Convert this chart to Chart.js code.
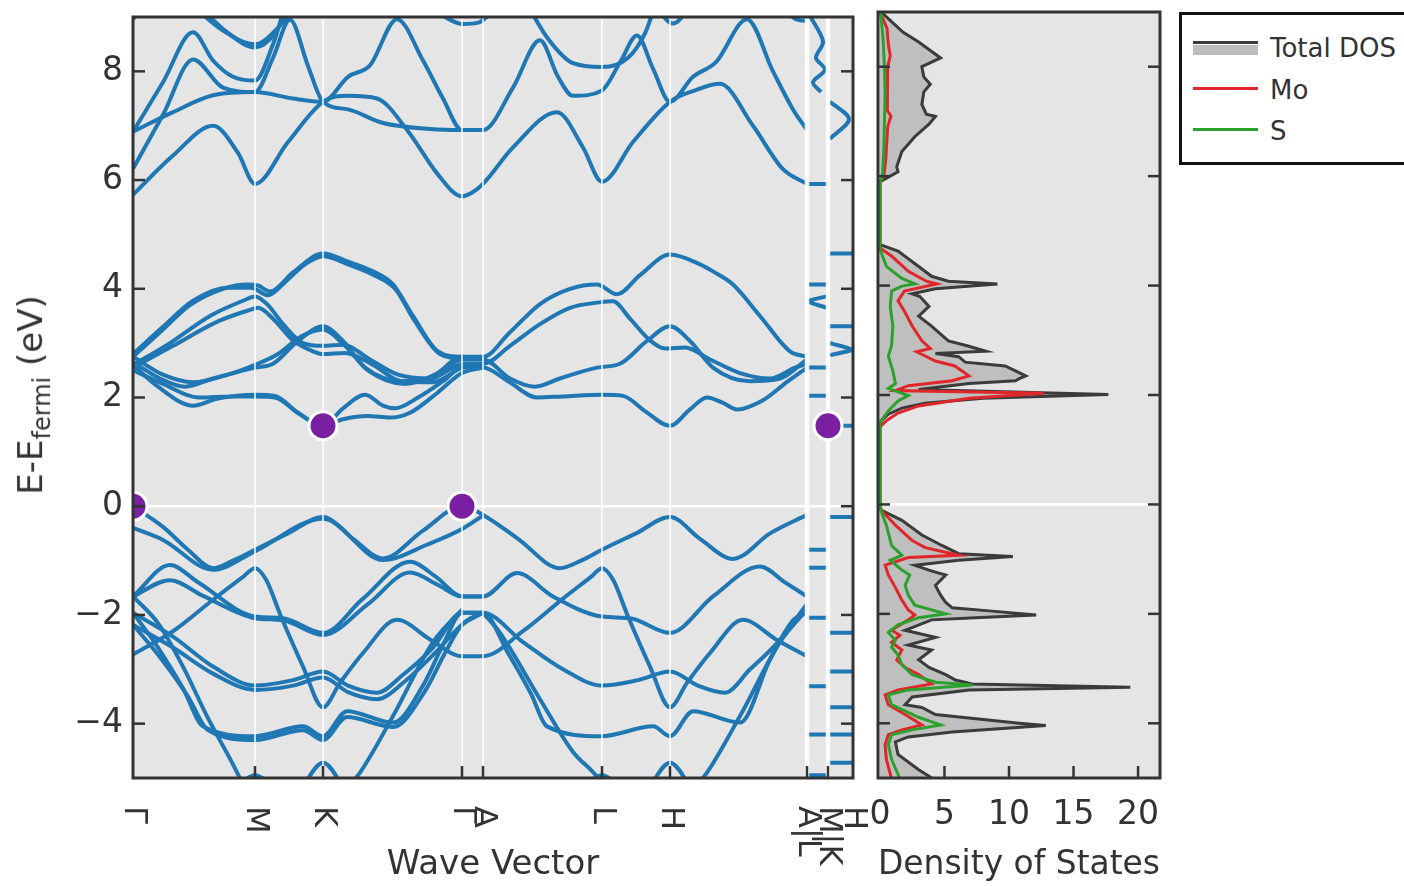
<!DOCTYPE html>
<html><head><meta charset="utf-8">
<script src="https://cdn.jsdelivr.net/npm/chart.js@4.4.1/dist/chart.umd.min.js"></script>
<style>
html,body{margin:0;padding:0;background:#fff;width:1404px;height:886px;overflow:hidden;position:relative;font-family:'DejaVu Sans',sans-serif;}
#bands{position:absolute;left:0;top:0;}
#dos{position:absolute;left:860px;top:0;}
#ylab{position:absolute;left:33px;top:395px;transform:translate(-50%,-50%) rotate(-90deg);white-space:nowrap;font-size:34px;color:#333;}
#ylab sub{font-size:24px;}
#legend{position:absolute;left:1179px;top:12px;width:250px;height:153px;border:3px solid #111;box-sizing:border-box;background:#fff;}
#legend .sw{position:absolute;left:11px;width:65px;}
#legend .tx{position:absolute;left:88px;font-size:26px;line-height:30px;color:#333;white-space:nowrap;}
</style></head>
<body>
<canvas id="bands" width="870" height="886"></canvas>
<canvas id="dos" width="330" height="886"></canvas>
<div id="ylab">E-E<sub>fermi</sub> (eV)</div>
<div id="legend">
  <div class="sw" style="top:30px;height:10px;background:#bdbdbd;"></div>
  <div class="sw" style="top:26px;height:3px;background:#3b3b3b;"></div>
  <div class="tx" style="top:18px;">Total DOS</div>
  <div class="sw" style="top:72px;height:3px;background:#e0252b;"></div>
  <div class="tx" style="top:60px;">Mo</div>
  <div class="sw" style="top:113px;height:3px;background:#2ca02c;"></div>
  <div class="tx" style="top:101px;">S</div>
</div>
<script>
// ---------------- DATA ----------------
const kTicks  = [0, 122, 190, 329, 350, 469, 537, 674, 695, 720];
const kLabels = ['Γ', 'M', 'K', 'Γ', 'A', 'L', 'H', 'A|L', 'M|K', 'H'];
const eTicks  = [-4, -2, 0, 2, 4, 6, 8];
const eMin = -5, eMax = 9;
const dosTicks = [0, 5, 10, 15, 20];
const dosMin = -0.15, dosMax = 21.7;

// band edges (VBM / CBM markers)
const gapK = [0, 190, 329, 695];
const gapE = [0, 1.48, 0, 1.48];

// valence bands [k, E]
const vb1a = [[0,0],[30,-0.38],[55,-0.8],[80,-1.14],[100,-1.0],[122,-0.8],[155,-0.5],[190,-0.2],[220,-0.6],[250,-0.96],[290,-0.45],[329,0],[350,-0.16],[385,-0.6],[427,-1.14],[448,-1.0],[469,-0.8],[503,-0.5],[537,-0.2],[567,-0.6],[600,-0.97],[637,-0.5],[674,-0.16]];
const vb1b = [[0,-0.4],[30,-0.62],[80,-1.17],[122,-0.83],[190,-0.23],[250,-0.99],[295,-0.7],[329,-0.42],[350,-0.17]];
const vb2a = [[0,-1.66],[37,-1.08],[65,-1.4],[122,-2.03],[150,-2.06],[190,-2.33],[230,-1.7],[277,-1.02],[303,-1.3],[329,-1.66],[350,-1.66],[384,-1.23],[420,-1.66],[469,-2.03],[497,-2.06],[537,-2.33],[580,-1.66],[627,-1.11],[652,-1.4],[674,-1.66]];
const vb2b = [[0,-1.66],[37,-1.36],[70,-1.65],[122,-2.06],[150,-2.1],[190,-2.37],[235,-1.8],[277,-1.22],[305,-1.45],[329,-1.66],[350,-1.66]];
const vb3a = [[0,-2.73],[40,-2.3],[80,-1.72],[110,-1.3],[122,-1.14],[133,-1.35],[148,-2.03],[170,-2.95],[190,-3.7],[207,-3.25],[230,-2.7],[264,-2.09],[297,-2.45],[329,-2.76],[350,-2.76],[390,-2.3],[430,-1.7],[458,-1.3],[469,-1.14],[480,-1.35],[495,-2.03],[517,-2.95],[537,-3.7],[554,-3.25],[577,-2.7],[610,-2.09],[643,-2.45],[674,-2.76]];
const vb4a = [[0,-1.96],[40,-2.4],[80,-2.95],[122,-3.3],[160,-3.2],[190,-3.04],[215,-3.3],[244,-3.43],[270,-3.1],[300,-2.6],[329,-1.96],[350,-1.96],[390,-2.5],[430,-3.0],[469,-3.3],[505,-3.2],[537,-3.04],[565,-3.3],[592,-3.43],[617,-3.0],[645,-2.5],[674,-1.8]];
const vb4b = [[0,-2.18],[40,-2.6],[80,-3.08],[122,-3.38],[160,-3.3],[190,-3.15],[215,-3.42],[244,-3.55],[272,-3.22],[302,-2.7],[329,-2.18],[350,-1.96]];
const vb5a = [[0,-1.96],[25,-2.6],[50,-3.35],[70,-4.05],[122,-4.23],[170,-4.05],[190,-4.23],[214,-3.77],[260,-3.98],[290,-3.3],[310,-2.55],[329,-1.96],[350,-1.96],[375,-2.7],[398,-3.45],[414,-4.05],[469,-4.23],[520,-4.05],[537,-4.23],[560,-3.77],[607,-3.98],[637,-2.82],[660,-2.1],[674,-1.96]];
const vb5b = [[0,-2.18],[28,-2.8],[55,-3.5],[75,-4.12],[122,-4.3],[170,-4.12],[190,-4.3],[214,-3.88],[260,-4.06],[292,-3.4],[312,-2.7],[329,-2.18],[350,-1.96]];
const vb6a = [[0,-1.66],[25,-2.15],[50,-2.95],[75,-3.9],[100,-4.75],[112,-5.2]];
const vb6b = [[350,-1.96],[367,-2.33],[407,-3.55],[440,-4.52],[460,-4.89],[475,-5.2]];
const vb7a = [[213,-5.2],[227,-4.9],[260,-3.86],[300,-2.5],[329,-1.9]];
const vb7b = [[560,-5.2],[574,-4.9],[607,-3.86],[647,-2.5],[674,-1.9]];
const vb8a = [[168,-5.2],[190,-4.72],[212,-5.2]];
const vb8b = [[515,-5.2],[537,-4.72],[559,-5.2]];
const vb8c = [[100,-5.2],[122,-4.95],[144,-5.2]];
const vb8d = [[447,-5.2],[469,-4.95],[491,-5.2]];

// conduction bands [k, E]
const cb1a = [[0,2.6],[25,2.2],[60,1.85],[85,1.98],[122,2.05],[142,2.03],[165,1.72],[190,1.48],[210,1.8],[232,2.05],[250,1.85],[262,1.8],[285,2.0],[310,2.3],[329,2.55],[350,2.55],[375,2.3],[404,2.0],[430,2.02],[469,2.05],[490,2.03],[512,1.75],[537,1.48],[557,1.78],[574,2.0],[590,1.9],[604,1.78],[630,1.95],[655,2.3],[674,2.55]];
const cb1b = [[0,2.5],[30,2.25],[65,2.0],[100,2.02],[122,2.02],[142,2.0],[166,1.7],[190,1.48],[210,1.6],[235,1.66],[257,1.63],[277,1.72],[302,2.05],[329,2.45],[350,2.55]];
const cb2a = [[0,2.65],[27,2.35],[52,2.2],[80,2.35],[122,2.55],[140,2.62],[165,3.04],[190,3.31],[210,3.04],[232,2.55],[270,2.3],[300,2.35],[329,2.7],[350,2.7],[377,2.35],[402,2.2],[427,2.35],[464,2.55],[487,2.62],[514,3.04],[537,3.31],[557,3.04],[580,2.55],[617,2.3],[647,2.35],[674,2.7]];
const cb2b = [[0,2.75],[30,2.42],[60,2.28],[95,2.42],[122,2.6],[145,2.8],[168,3.12],[190,3.25],[212,2.95],[235,2.5],[272,2.25],[302,2.42],[329,2.75],[350,2.7]];
const cb3a = [[0,2.6],[37,3.0],[77,3.5],[110,3.78],[122,3.86],[135,3.7],[150,3.35],[170,3.0],[190,2.95],[210,2.97],[237,2.7],[265,2.42],[297,2.35],[320,2.55],[329,2.62],[350,2.62],[377,2.95],[407,3.35],[437,3.65],[467,3.75],[480,3.77],[497,3.45],[517,3.05],[532,2.9],[552,2.92],[577,2.7],[607,2.45],[637,2.35],[662,2.55],[674,2.62]];
const cb3b = [[0,2.55],[40,2.95],[85,3.4],[115,3.6],[125,3.65],[140,3.45],[160,3.05],[180,2.85],[190,2.8],[212,2.82],[240,2.6],[268,2.3],[300,2.28],[329,2.55],[350,2.62]];
const cb4a = [[0,2.75],[27,3.2],[57,3.7],[90,4.0],[114,4.08],[125,4.06],[137,3.95],[160,4.3],[190,4.65],[215,4.5],[240,4.32],[260,4.08],[280,3.5],[305,2.85],[329,2.75],[350,2.75],[377,3.2],[407,3.72],[437,4.0],[464,4.08],[484,3.9],[507,4.25],[537,4.63],[567,4.45],[580,4.32],[600,4.08],[627,3.5],[657,2.85],[674,2.75]];
const cb4b = [[0,2.8],[30,3.3],[60,3.78],[95,4.02],[118,4.02],[135,3.88],[152,4.12],[172,4.45],[190,4.6],[215,4.45],[240,4.26],[262,4.0],[282,3.4],[307,2.8],[329,2.72],[350,2.75]];

// upper conduction bands [k, E]
const ub1 = [[0,5.73],[40,6.45],[80,7.0],[105,6.5],[122,5.93],[155,6.7],[190,7.44],[215,7.55],[244,7.5],[275,6.9],[305,6.1],[329,5.7],[340,5.78],[350,5.93],[380,6.6],[424,7.25],[450,6.6],[469,5.97],[500,6.7],[537,7.44],[562,7.65],[587,7.77],[620,7.0],[650,6.2],[674,5.93]];
const ub2 = [[0,6.21],[30,7.2],[60,8.22],[90,7.7],[122,7.62],[140,8.25],[157,8.95],[175,8.1],[190,7.44],[215,7.3],[250,7.05],[297,6.94],[329,6.92],[350,6.92],[380,7.7],[407,8.57],[425,7.9],[440,7.55],[469,7.65],[488,8.2],[504,8.66],[520,8.05],[537,7.44],[560,7.9],[583,8.17],[614,8.96],[640,8.0],[660,7.3],[674,6.92]];
const ub3 = [[0,6.89],[30,7.8],[60,8.72],[80,8.2],[100,7.9],[122,7.83],[140,8.5],[152,9.2]];
const ub4 = [[0,6.89],[40,7.25],[80,7.56],[122,7.62],[160,7.5],[190,7.44],[215,7.9],[237,8.11],[264,8.96],[290,8.2],[310,7.5],[329,6.92],[350,6.92]];
const ub5 = [[60,9.2],[90,8.75],[122,8.5],[145,8.8],[162,9.2]];
const ub6 = [[66,9.2],[94,8.72],[122,8.44],[142,8.7],[156,9.2]];
const ub7 = [[298,9.2],[315,8.97],[330,8.87],[346,8.9],[364,9.2]];
const ub8 = [[0,8.96],[12,9.2]];
const ub9 = [[395,9.2],[415,8.6],[440,8.15],[469,8.08],[495,8.25],[512,8.7],[522,9.2]];
const ub10 = [[522,9.2],[540,8.88],[558,9.2]];
const ub11 = [[648,9.2],[664,8.95],[674,8.93]];

// short segments L-M and K-H (flat levels, E) and small curves [k, E]
const lmLevels = [5.93, 4.08, 2.55, 2.03, -0.80, -1.13, -2.05, -3.31, -4.20, -4.95];
const khLevels = [4.65, 3.31, 1.48, -0.20, -2.33, -3.04, -3.70, -4.20, -4.72];
const lmCurveA = [[676,9.05],[690,8.55],[683,8.25],[692,8.03],[680,7.8],[688,7.62]];
const lmCurveB = [[694,3.86],[676,3.77],[694,3.65]];
const khCurveA = [[697,7.44],[716,7.12],[697,6.76]];
const khCurveB = [[697,3.0],[718,2.88],[697,2.78]];

// density of states (energy, value)
const totalE = [9.0,8.8,8.63,8.45,8.16,8.0,7.81,7.68,7.54,7.31,7.13,7.09,6.95,6.72,6.45,6.17,6.08,5.95,5.9,4.75,4.63,4.35,4.17,4.08,4.03,3.94,3.85,3.8,3.62,3.44,3.26,2.99,2.9,2.8,2.76,2.7,2.6,2.53,2.44,2.35,2.3,2.26,2.21,2.1,2.01,1.94,1.85,1.76,1.65,1.53,1.45,-0.05,-0.11,-0.29,-0.56,-0.75,-0.9,-0.95,-1.02,-1.11,-1.2,-1.25,-1.29,-1.48,-1.66,-1.79,-1.89,-1.95,-2.02,-2.07,-2.11,-2.3,-2.43,-2.57,-2.66,-2.84,-2.98,-3.11,-3.21,-3.28,-3.34,-3.39,-3.52,-3.66,-3.71,-3.84,-4.0,-4.04,-4.16,-4.25,-4.34,-4.57,-4.85,-5.1];
const totalV = [0.1,1.0,1.8,3.0,4.7,3.25,3.4,3.9,3.4,3.25,3.6,4.3,3.8,2.7,1.7,1.3,1.4,0.4,0,0,1.4,3.0,4.0,5.3,9.1,4.3,2.5,3.1,3.8,3.0,4.0,5.3,6.75,8.2,4.3,6.1,6.6,9.7,10.5,11.3,10.8,10.5,6.9,3.0,17.7,8.0,3.5,1.7,0.65,0.1,0,0,0.13,1.7,3.25,4.8,6.1,10.3,6.1,2.7,3.8,4.5,5.1,4.3,4.7,5.1,5.6,8.7,12.1,7.4,4.0,1.95,4.3,2.2,4.0,3.0,3.8,5.1,5.85,7.15,19.4,6.9,2.5,1.95,3.25,4.3,10.8,12.85,5.6,2.2,1.2,1.4,3.0,4.7];
const moE = [9.0,8.7,8.4,8.2,8.0,7.6,7.2,7.1,6.9,6.3,6.0,5.9,4.72,4.67,4.54,4.26,4.08,4.03,3.9,3.72,3.53,3.26,2.99,2.85,2.79,2.62,2.53,2.35,2.26,2.17,2.08,2.03,1.94,1.8,1.67,1.53,1.44,1.4,-0.05,-0.11,-0.38,-0.66,-0.79,-0.93,-0.97,-1.07,-1.11,-1.29,-1.52,-1.75,-1.93,-2.02,-2.11,-2.3,-2.39,-2.52,-2.66,-2.84,-2.98,-3.11,-3.28,-3.39,-3.48,-3.66,-3.84,-4.03,-4.12,-4.21,-4.39,-4.66,-5.1];
const moV = [0,0.55,0.65,0.8,0.6,0.55,0.6,0.85,0.6,0.45,0.3,0,0,0.1,0.9,2.2,3.6,4.4,1.9,1.4,1.9,2.5,3.25,3.9,2.85,4.3,5.8,6.9,5.6,2.2,1.2,12.7,6.9,3.0,1.4,0.5,0.1,0,0,0.13,1.2,2.5,3.5,6.1,2.2,0.9,0.4,0.65,1.2,1.7,2.2,2.7,2.2,0.9,1.55,0.9,1.7,1.3,1.95,3.0,4.0,1.4,0.4,0.65,1.95,3.25,1.7,0.65,0.4,0.5,1.0];
const sE = [9.0,8.5,8.0,7.5,7.0,6.5,6.0,5.9,4.72,4.67,4.35,4.13,4.03,3.99,3.9,3.62,3.26,2.9,2.71,2.44,2.21,2.12,1.99,1.89,1.71,1.58,1.48,-0.06,-0.38,-0.75,-0.93,-1.02,-1.2,-1.29,-1.48,-1.66,-1.84,-2.0,-2.07,-2.2,-2.34,-2.48,-2.61,-2.75,-2.93,-3.11,-3.25,-3.3,-3.39,-3.48,-3.66,-3.89,-4.03,-4.12,-4.21,-4.39,-4.66,-5.1];
const sV = [0.05,0.25,0.35,0.4,0.35,0.3,0.2,0,0,0,0.5,1.7,2.7,1.7,0.9,0.8,1.0,0.9,0.65,1.0,1.2,0.65,2.2,1.4,0.65,0.25,0,0,0.5,0.9,1.7,0.8,1.7,2.3,1.95,2.2,2.7,5.1,3.0,1.4,0.65,1.2,0.9,1.4,1.7,2.5,4.3,7.15,2.2,0.65,0.9,3.0,4.7,2.5,0.9,0.65,0.9,1.7];

// ---------------- STYLE / BUILD ----------------
const FONT = "'DejaVu Sans', sans-serif";
const TXT = '#333';
const BLUE = '#1f77b4';
const PLOT_BG = '#e5e5e5';
Chart.defaults.font.family = FONT;
Chart.defaults.color = TXT;

const fmt = v => v < 0 ? '\u2212' + Math.abs(v) : String(v);
const toPts = arr => arr.map(p => ({x: p[0], y: p[1]}));

const bandArrays = [vb1a,vb1b,vb2a,vb2b,vb3a,vb4a,vb4b,vb5a,vb5b,vb6a,vb6b,vb7a,vb7b,vb8a,vb8b,vb8c,vb8d,
  cb1a,cb1b,cb2a,cb2b,cb3a,cb3b,cb4a,cb4b,ub1,ub2,ub3,ub4,ub5,ub6,ub7,ub8,ub9,ub10,ub11];

const shortPts = [];
const addLevels = (levels, k0, k1) => levels.forEach(e => { shortPts.push({x:k0,y:e},{x:k1,y:e},{x:k1,y:null}); });
addLevels(lmLevels, kTicks[7], kTicks[8]);
addLevels(khLevels, kTicks[8], kTicks[9]);
[lmCurveA, lmCurveB, khCurveA, khCurveB].forEach(c => { c.forEach(p => shortPts.push({x:p[0], y:p[1]})); shortPts.push({x:c[c.length-1][0], y:null}); });

const datasets = [{
  label: 'gap', data: gapK.map((k,i) => ({x:k, y:gapE[i]})), showLine: false,
  pointRadius: 14, pointHoverRadius: 14, pointBackgroundColor: '#7b1fa2', pointBorderColor: '#ffffff', pointBorderWidth: 3, clip: 0
}];
bandArrays.forEach(b => datasets.push({
  data: toPts(b), borderColor: BLUE, borderWidth: 4, pointRadius: 0, fill: false,
  cubicInterpolationMode: 'monotone', clip: 0, borderCapStyle: 'butt'
}));
datasets.push({data: shortPts, borderColor: BLUE, borderWidth: 4, pointRadius: 0, fill: false, tension: 0.3, spanGaps: false, clip: 0});

function line(ctx, x1, y1, x2, y2) { ctx.beginPath(); ctx.moveTo(x1, y1); ctx.lineTo(x2, y2); ctx.stroke(); }

const bandDecor = {
  id: 'bandDecor',
  beforeDraw(chart) {
    const {ctx, chartArea: a} = chart;
    ctx.save(); ctx.fillStyle = PLOT_BG; ctx.fillRect(a.left, a.top, a.right - a.left, a.bottom - a.top); ctx.restore();
  },
  beforeDatasetDraw(chart, args) {
    if (chart.data.datasets[args.index].label !== 'gap') return;
    const {ctx, chartArea: a, scales: {x}} = chart;
    ctx.save();
    ctx.strokeStyle = 'rgba(255,255,255,0.92)';
    kTicks.forEach((k, i) => {
      if (i === 0 || i === kTicks.length - 1) return;
      ctx.lineWidth = kLabels[i].includes('|') ? 4.5 : 1.6;
      const px = x.getPixelForValue(k);
      line(ctx, px, a.top, px, a.bottom);
    });
    ctx.restore();
  },
  afterDraw(chart) {
    const {ctx, chartArea: a, scales: {x, y}} = chart;
    ctx.save();
    ctx.strokeStyle = '#333'; ctx.lineWidth = 2.5;
    eTicks.forEach(v => { const py = y.getPixelForValue(v); line(ctx, a.left, py, a.left + 12, py); line(ctx, a.right - 12, py, a.right, py); });
    kTicks.forEach((k, i) => { if (i === 0 || i === kTicks.length - 1) return; const px = x.getPixelForValue(k); line(ctx, px, a.bottom, px, a.bottom - 12); });
    ctx.lineWidth = 3; ctx.strokeRect(a.left, a.top, a.right - a.left, a.bottom - a.top);
    ctx.fillStyle = TXT; ctx.font = "32px " + FONT; ctx.textAlign = 'left'; ctx.textBaseline = 'middle';
    kTicks.forEach((k, i) => {
      const px = x.getPixelForValue(k);
      ctx.save(); ctx.translate(px, a.bottom + 28); ctx.rotate(Math.PI / 2); ctx.fillText(kLabels[i], 0, 0); ctx.restore();
    });
    ctx.restore();
  }
};

const noPad = s => { s.paddingTop = 0; s.paddingBottom = 0; s.paddingLeft = 0; s.paddingRight = 0; };
const titleFont = {family: FONT, size: 34, lineHeight: 1.0};

new Chart(document.getElementById('bands'), {
  type: 'line',
  data: {datasets},
  plugins: [bandDecor],
  options: {
    responsive: false, animation: false, devicePixelRatio: 1,
    layout: {padding: {left: 0, top: 12, right: 17, bottom: 0}},
    plugins: {legend: {display: false}, tooltip: {enabled: false}},
    events: [],
    scales: {
      x: {type: 'linear', min: 0, max: 720,
        afterBuildTicks: s => { s.ticks = kTicks.map(v => ({value: v})); },
        afterFit: s => { s.height = 108; noPad(s); },
        grid: {display: false}, border: {display: false}, ticks: {display: false},
        title: {display: true, text: 'Wave Vector', color: TXT, font: titleFont, padding: {top: 0, bottom: 4}}},
      y: {type: 'linear', min: eMin, max: eMax,
        afterBuildTicks: s => { s.ticks = eTicks.map(v => ({value: v})); },
        afterFit: s => { s.width = 133; noPad(s); },
        border: {display: false},
        grid: {drawTicks: false, lineWidth: 2.5, color: c => (c.tick && c.tick.value === 0) ? '#ffffff' : 'rgba(0,0,0,0)'},
        ticks: {padding: 10, color: TXT, font: {family: FONT, size: 33}, callback: v => fmt(v)}}
    }
  }
});

// ---------------- DOS ----------------
const dosDecor = {
  id: 'dosDecor',
  beforeDraw(chart) {
    const {ctx, chartArea: a} = chart;
    ctx.save(); ctx.fillStyle = PLOT_BG; ctx.fillRect(a.left, a.top, a.right - a.left, a.bottom - a.top); ctx.restore();
  },
  afterDraw(chart) {
    const {ctx, chartArea: a, scales: {x, y}} = chart;
    ctx.save();
    ctx.strokeStyle = '#333'; ctx.lineWidth = 2.5;
    eTicks.forEach(v => { const py = y.getPixelForValue(v); line(ctx, a.left, py, a.left + 12, py); line(ctx, a.right - 12, py, a.right, py); });
    dosTicks.forEach(v => { if (v === 0) return; const px = x.getPixelForValue(v); line(ctx, px, a.bottom, px, a.bottom - 12); });
    ctx.lineWidth = 3; ctx.strokeRect(a.left, a.top, a.right - a.left, a.bottom - a.top);
    ctx.restore();
  }
};
const mk = (E, V) => E.map((e, i) => ({x: V[i], y: e}));
new Chart(document.getElementById('dos'), {
  type: 'line',
  data: {datasets: [
    {label: 'Total DOS', data: mk(totalE, totalV), borderColor: '#3b3b3b', borderWidth: 3, backgroundColor: 'rgba(128,128,128,0.38)', fill: 'origin', pointRadius: 0, tension: 0, clip: 0, order: 3},
    {label: 'Mo', data: mk(moE, moV), borderColor: '#e0252b', borderWidth: 3, fill: false, pointRadius: 0, tension: 0, clip: 0, order: 2},
    {label: 'S', data: mk(sE, sV), borderColor: '#2ca02c', borderWidth: 3, fill: false, pointRadius: 0, tension: 0, clip: 0, order: 1}
  ]},
  plugins: [dosDecor],
  options: {
    indexAxis: 'y',
    responsive: false, animation: false, devicePixelRatio: 1, events: [],
    layout: {padding: {left: 18, top: 12, right: 30, bottom: 0}},
    plugins: {legend: {display: false}, tooltip: {enabled: false}},
    scales: {
      x: {type: 'linear', min: dosMin, max: dosMax,
        afterBuildTicks: s => { s.ticks = dosTicks.map(v => ({value: v})); },
        afterFit: s => { s.height = 108; noPad(s); },
        grid: {display: false}, border: {display: false},
        ticks: {padding: 10, color: TXT, font: {family: FONT, size: 33}, maxRotation: 0, minRotation: 0, autoSkip: false},
        title: {display: true, text: 'Density of States', color: TXT, font: titleFont, padding: {top: 0, bottom: 4}}},
      y: {type: 'linear', min: eMin, max: eMax,
        afterBuildTicks: s => { s.ticks = eTicks.map(v => ({value: v})); },
        afterFit: s => { s.width = 0; noPad(s); },
        border: {display: false},
        grid: {drawTicks: false, lineWidth: 2.5, color: c => (c.tick && c.tick.value === 0) ? '#ffffff' : 'rgba(0,0,0,0)'},
        ticks: {display: false}}
    }
  }
});
</script>
</body></html>
